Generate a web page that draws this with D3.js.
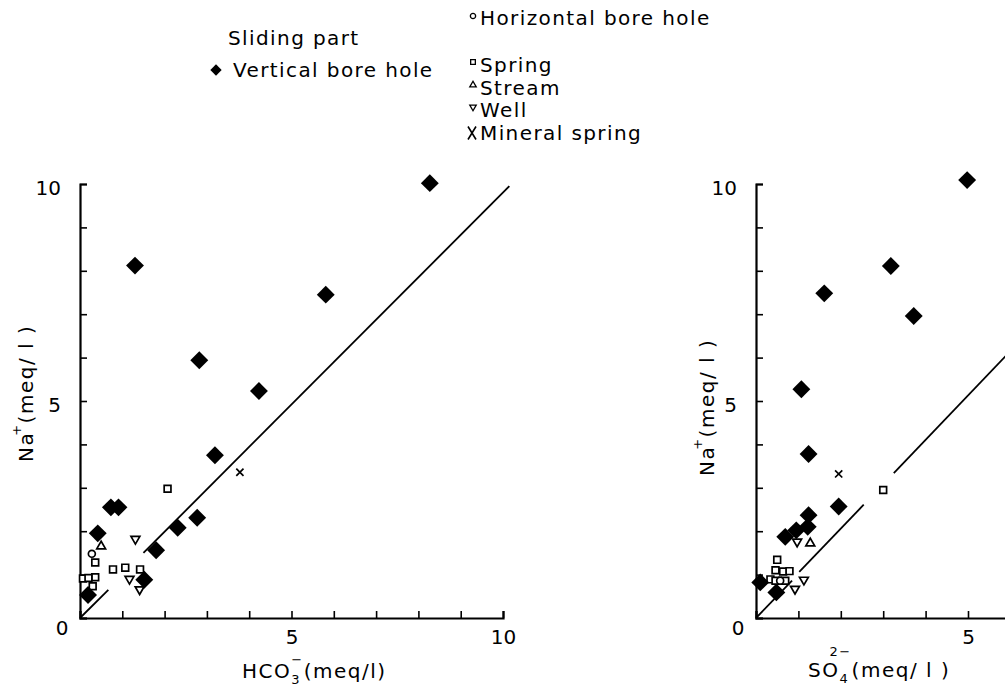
<!DOCTYPE html>
<html>
<head>
<meta charset="utf-8">
<script src="https://cdn.jsdelivr.net/npm/d3@7"></script>
<style>
  body { margin: 0; background: #fff; }
  svg text { font-family: "DejaVu Sans", sans-serif; fill: #000; }
</style>
</head>
<body>
<svg id="chart" width="1005" height="693"></svg>
<script>
// ---- values (meq/l): [anion, Na+] ----
const hco3Vertical   = [[8.27,10.02],[1.30,8.12],[5.81,7.45],[2.82,5.94],[4.23,5.23],[3.19,3.75],
                        [0.73,2.55],[0.91,2.55],[2.77,2.31],[2.31,2.08],[1.80,1.56],[0.42,1.95],
                        [1.52,0.88],[0.19,0.53]];
const hco3Horizontal = [[0.28,1.48]];
const hco3Spring     = [[2.07,2.98],[0.36,1.28],[0.36,0.94],[0.30,0.73],[0.78,1.12],[1.07,1.16],
                        [1.42,1.12],[0.07,0.91],[0.20,0.92]];
const hco3Stream     = [[0.50,1.65]];
const hco3Well       = [[1.31,1.82],[1.17,0.90],[1.41,0.66]];
const hco3Mineral    = [[3.78,3.36]];

const so4Vertical    = [[4.98,10.09],[3.18,8.11],[1.61,7.48],[3.72,6.96],[1.07,5.27],[1.24,3.78],
                        [1.95,2.57],[1.24,2.37],[1.22,2.10],[0.95,2.02],[0.69,1.87],[0.10,0.82],
                        [0.48,0.59]];
const so4Horizontal  = [[0.57,0.86]];
const so4Spring      = [[3.00,2.95],[0.50,1.34],[0.46,1.10],[0.64,1.07],[0.79,1.08],[0.34,0.89],
                        [0.46,0.86],[0.69,0.86]];
const so4Stream      = [[1.28,1.72]];
const so4Well        = [[0.97,1.76],[0.92,0.67],[1.13,0.88]];
const so4Mineral     = [[1.95,3.32]];

// 1:1 reference lines, drawn with gaps as in the original
const hco3RefLine = [[[0,0],[0.67,0.65]], [[1.5,1.5],[10.15,9.95]]];
const so4RefLine  = [[[0,0],[0.85,0.86]], [[1.02,1.06],[2.54,2.61]], [[3.25,3.34],[5.95,6.1]]];

const tickValues = [0,1,2,3,4,5,6,7,8,9,10];
const hco3TickLabels = [5, 10];
const so4TickLabels  = [5];
const naTickLabels   = [5, 10];

const legendKeys  = ['horizontal','spring','stream','well','mineral'];
const legendNames = ['Horizontal bore hole','Spring','Stream','Well','Mineral spring'];

// ---- setup ----
const svg = d3.select('#chart');
svg.append('rect').attr('width',1005).attr('height',693).attr('fill','#fff');

const yScale = d3.scaleLinear().domain([0,10]).range([618,184]);
const xLeft  = d3.scaleLinear().domain([0,10]).range([80,503]);
const xRight = d3.scaleLinear().domain([0,10]).range([756,1180]);

// marker shapes
const timesType = {
  draw(ctx, size) {
    const r = Math.sqrt(size) * 0.6;
    ctx.moveTo(-r,-r); ctx.lineTo(r,r);
    ctx.moveTo(r,-r); ctx.lineTo(-r,r);
  }
};
const markers = {
  vertical:   { path: d3.symbol(d3.symbolSquare, 160)(), rot: 45,  fill: '#000', stroke: 'none' },
  horizontal: { path: d3.symbol(d3.symbolCircle, 38)(),  rot: 0,   fill: '#fff', stroke: '#000' },
  spring:     { path: d3.symbol(d3.symbolSquare, 46)(),  rot: 0,   fill: '#fff', stroke: '#000' },
  stream:     { path: d3.symbol(d3.symbolTriangle, 34)(), rot: 0,  fill: '#fff', stroke: '#000' },
  well:       { path: d3.symbol(d3.symbolTriangle, 34)(), rot: 180, fill: '#fff', stroke: '#000' },
  mineral:    { path: d3.symbol(timesType, 36)(),        rot: 0,   fill: 'none', stroke: '#000' }
};

const panels = [
  { x: xLeft, line: hco3RefLine, xLabels: hco3TickLabels,
    series: { spring: hco3Spring, horizontal: hco3Horizontal, stream: hco3Stream, well: hco3Well,
              mineral: hco3Mineral, vertical: hco3Vertical } },
  { x: xRight, line: so4RefLine, xLabels: so4TickLabels,
    series: { spring: so4Spring, horizontal: so4Horizontal, stream: so4Stream, well: so4Well,
              mineral: so4Mineral, vertical: so4Vertical } }
];

function styleAxis(g) {
  g.attr('font-family', null).attr('font-size', null);
  g.select('.domain').attr('stroke-width', 2.2);
  g.selectAll('.tick line').attr('stroke-width', 1.6);
  g.selectAll('.tick text').style('font-size', '20px');
}

panels.forEach(p => {
  const g = svg.append('g');

  // axes with inward ticks
  const xAxis = d3.axisBottom(p.x).tickValues(tickValues).tickSize(-7).tickPadding(12)
      .tickFormat(d => p.xLabels.includes(d) ? d : '');
  g.append('g').attr('transform', `translate(0,${yScale(0)})`).call(xAxis).call(styleAxis);

  const yAxis = d3.axisLeft(yScale).tickValues(tickValues).tickSize(-7).tickPadding(19)
      .tickFormat(d => naTickLabels.includes(d) ? d : '');
  g.append('g').attr('transform', `translate(${p.x(0)},0)`).call(yAxis).call(styleAxis)
    .selectAll('.tick text').attr('transform', 'translate(0,4)');

  // shared zero label
  g.append('text').attr('x', p.x(0) - 18).attr('y', yScale(0) + 17)
    .attr('text-anchor', 'middle').style('font-size', '20px').text('0');

  // 1:1 line segments
  const line = d3.line().x(d => p.x(d[0])).y(d => yScale(d[1]));
  g.selectAll('path.ref').data(p.line).join('path').attr('class', 'ref')
    .attr('d', line).attr('fill', 'none').attr('stroke', '#000').attr('stroke-width', 1.8);

  // points
  Object.keys(p.series).forEach(key => {
    const m = markers[key];
    g.selectAll(null).data(p.series[key]).join('path')
      .attr('d', m.path)
      .attr('transform', d => `translate(${p.x(d[0])},${yScale(d[1])}) rotate(${m.rot})`)
      .attr('fill', m.fill).attr('stroke', m.stroke).attr('stroke-width', 1.7);
  });
});

// ---- axis titles with chemical formulas ----
function chemLabel(parent, x, y, base, sub, sup, rest, supDx, supDy) {
  const fs = 20, small = 13;
  parent.style('letter-spacing', '1.5px');
  const t = parent.append('text').attr('x', x).attr('y', y).style('font-size', fs + 'px').text(base);
  const w = t.node().getComputedTextLength();
  let w2 = 0;
  if (sub) {
    const s = parent.append('text').attr('x', x + w).attr('y', y + 6)
      .style('font-size', small + 'px').text(sub);
    w2 = s.node().getComputedTextLength();
  }
  if (sup) {
    const s = parent.append('text').attr('x', x + w + (supDx || 0)).attr('y', y - (supDy || 12))
      .style('font-size', small + 'px').text(sup);
    w2 = Math.max(w2, s.node().getComputedTextLength() + (supDx || 0));
  }
  parent.append('text').attr('x', x + w + w2).attr('y', y).style('font-size', fs + 'px').text(rest);
}

chemLabel(svg.append('g'), xLeft(0) + 162, 678, 'HCO', '3', '\u2212', '(meq/l)', 0, 14);
chemLabel(svg.append('g'), xRight(0) + 52, 677, 'SO', '4', '2\u2212', '(meq/ l )', -10, 21);

chemLabel(svg.append('g').attr('transform', 'translate(33,462) rotate(-90)'),
  0, 0, 'Na', null, '+', '(meq/ l )', -4, 12);
chemLabel(svg.append('g').attr('transform', 'translate(714,476) rotate(-90)'),
  0, 0, 'Na', null, '+', '(meq/ l )', -4, 12);

// ---- legend ----
const legend = svg.append('g').style('font-size', '20px').style('letter-spacing', '1.4px');
legend.append('text').attr('x', 228).attr('y', 45).text('Sliding part');
legend.append('path').attr('d', d3.symbol(d3.symbolSquare, 64)())
  .attr('transform', 'translate(216,70) rotate(45)').attr('fill', '#000');
legend.append('text').attr('x', 233).attr('y', 77).text('Vertical bore hole');

const legendY    = [16, 62, 85, 107, 133];
const legendTxtY = [25, 72, 95, 117, 140];
const legendSize = { horizontal: 22, spring: 22, stream: 18, well: 18, mineral: 0 };
legendKeys.forEach((k, i) => {
  if (k === 'mineral') {
    legend.append('path').attr('d', 'M-4,-6.5L4,6.5M4,-6.5L-4,6.5')
      .attr('transform', `translate(472,${legendY[i]})`)
      .attr('stroke', '#000').attr('stroke-width', 1.6).attr('fill', 'none');
  } else {
    const shape = k === 'horizontal' ? d3.symbolCircle : (k === 'spring' ? d3.symbolSquare : d3.symbolTriangle);
    legend.append('path').attr('d', d3.symbol(shape, legendSize[k])())
      .attr('transform', `translate(473,${legendY[i]}) rotate(${markers[k].rot})`)
      .attr('fill', '#fff').attr('stroke', '#000').attr('stroke-width', 1.3);
  }
  legend.append('text').attr('x', 480).attr('y', legendTxtY[i]).text(legendNames[i]);
});
</script>
</body>
</html>
